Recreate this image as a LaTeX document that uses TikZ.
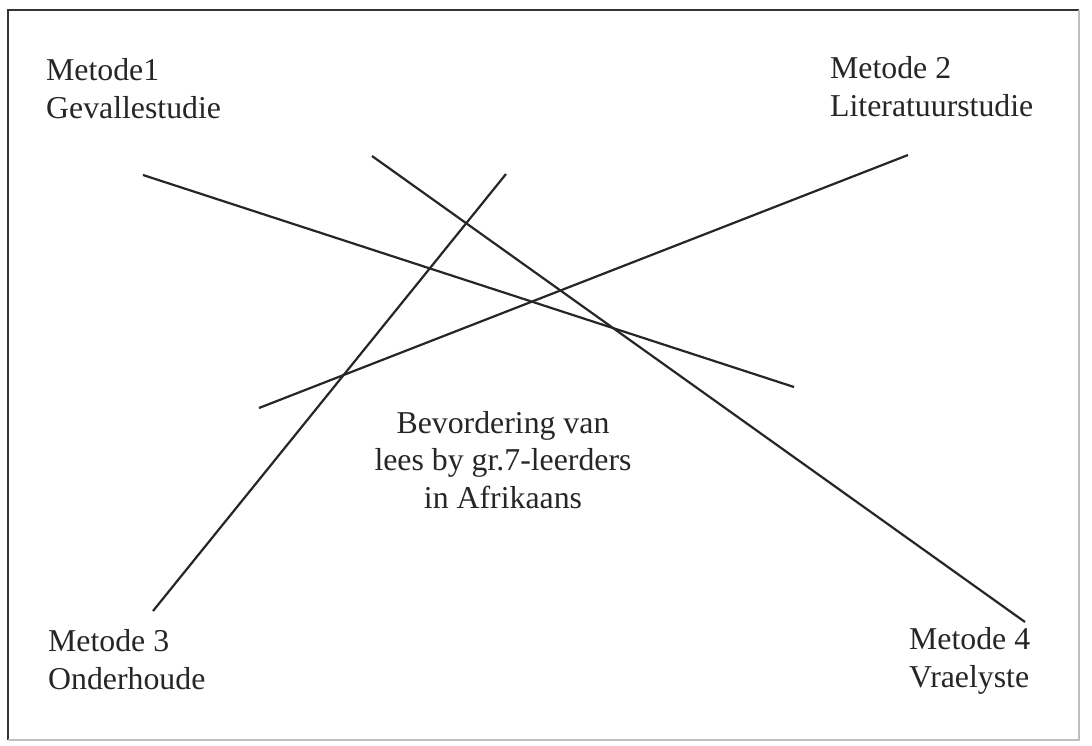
\documentclass[tikz,border=0pt]{standalone}
\usepackage{fontspec}
\setmainfont{Liberation Serif}
\begin{document}
\begin{tikzpicture}[x=1pt,y=-1pt,
  lbl/.style={font=\fontsize{31.8}{38}\selectfont, text=black!85, inner sep=0pt, align=left},
  ctr/.style={font=\fontsize{31.8}{37.5}\selectfont, text=black!85, inner sep=0pt, align=center},
  crossline/.style={draw=black!85, line width=2.2pt}]
\useasboundingbox (0,0) rectangle (1092,745);
\fill[white] (0,0) rectangle (1092,745);
% frame
\draw[black!80, line width=1.6pt] (1079,10) -- (8,10) -- (8,740);
\draw[black!25, line width=1.2pt] (1079,10) -- (1079,740) -- (8,740);
% labels (base anchor = baseline of last line)
\node[lbl, anchor=base west] (m1) at (46,118) {Metode1\\Gevallestudie};
\node[lbl, anchor=base west] (m2) at (830,116) {Metode 2\\Literatuurstudie};
\node[lbl, anchor=base west] (m3) at (48,689) {Metode 3\\Onderhoude};
\node[lbl, anchor=base west] (m4) at (909,687) {Metode 4\\Vraelyste};
\node[ctr, anchor=base] (c) at (503,508) {Bevordering van\\lees by gr.7-leerders\\in Afrikaans};
% line end points
\coordinate (a1) at (143,175);
\coordinate (a2) at (794,387);
\coordinate (b1) at (372,156);
\coordinate (b2) at (1025,622);
\coordinate (c1) at (506,174);
\coordinate (c2) at (153,611);
\coordinate (d1) at (908,155);
\coordinate (d2) at (259,408);
\draw[crossline] (a1) -- (a2);
\draw[crossline] (b1) -- (b2);
\draw[crossline] (c1) -- (c2);
\draw[crossline] (d1) -- (d2);
\end{tikzpicture}
\end{document}
